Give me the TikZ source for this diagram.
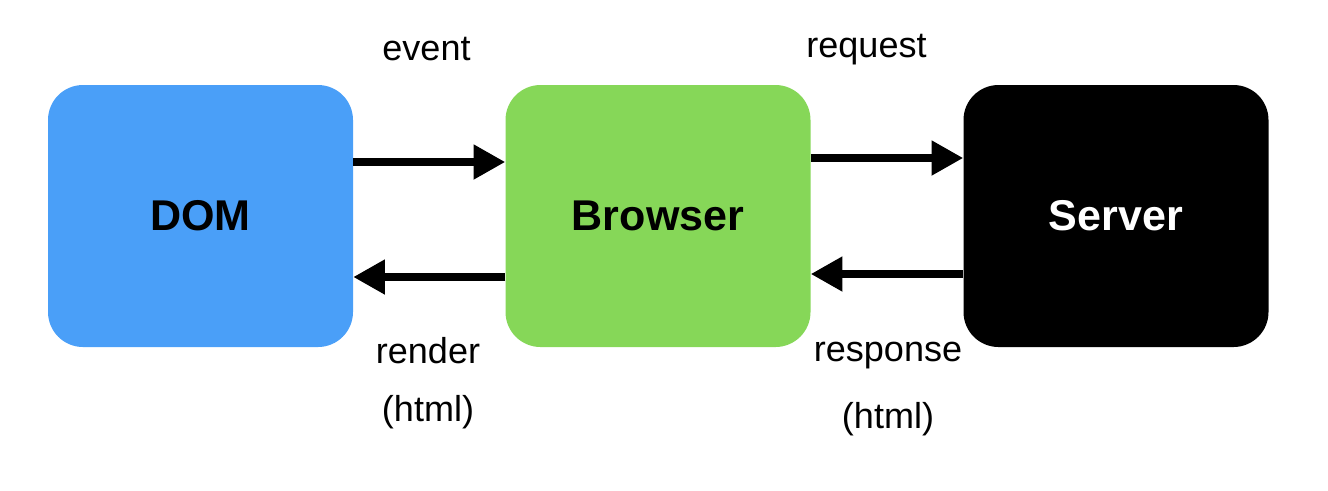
\documentclass[tikz,border=0pt]{standalone}
\usepackage{fontspec}
\setmainfont{Liberation Sans}
\usetikzlibrary{arrows.meta}
\definecolor{domblue}{RGB}{74,159,248}
\definecolor{browsergreen}{RGB}{134,215,88}

\begin{document}
\begin{tikzpicture}[
   box/.style={rounded corners=0.7cm,minimum width=6.1cm,minimum height=5.24cm,
      font=\fontsize{24.5}{28}\selectfont\bfseries},
   lbl/.style={anchor=base,font=\fontsize{20.5}{24}\selectfont},
   flow/.style={-{Triangle[length=18pt,width=19pt]},line width=4pt}]
   \useasboundingbox (0,0) rectangle (26.56,-9.8);

   \node[box,fill=domblue] (dom) at (4.01,-4.32) {DOM};
   \node[box,fill=browsergreen] (browser) at (13.16,-4.32) {Browser};
   \node[box,fill=black,text=white] (server) at (22.32,-4.32) {Server};

   \draw[flow] ([yshift=1.08cm]dom.east) -- ([yshift=1.08cm]browser.west);
   \draw[flow] ([yshift=-1.22cm]browser.west) -- ([yshift=-1.22cm]dom.east);
   \draw[flow] ([yshift=1.16cm]browser.east) -- ([yshift=1.16cm]server.west);
   \draw[flow] ([yshift=-1.16cm]server.west) -- ([yshift=-1.16cm]browser.east);

   \node[lbl] (event) at (8.53,-1.2) {event};
   \node[lbl] (request) at (17.33,-1.14) {request};
   \node[lbl] (render) at (8.56,-7.26) {render};
   \node[lbl] (renderhtml) at (8.56,-8.42) {(html)};
   \node[lbl] (response) at (17.76,-7.22) {response};
   \node[lbl] (responsehtml) at (17.76,-8.56) {(html)};
\end{tikzpicture}
\end{document}
